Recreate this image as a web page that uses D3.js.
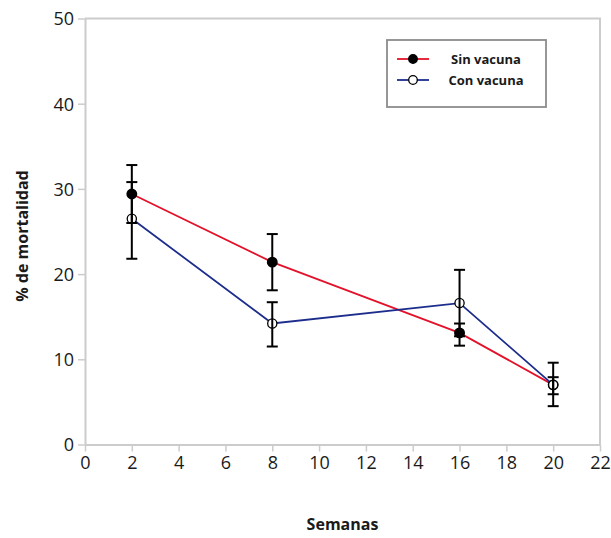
<!DOCTYPE html>
<html>
<head>
<meta charset="utf-8">
<script src="https://cdn.jsdelivr.net/npm/d3@7"></script>
<style>
  body { margin: 0; background: #fff; }
  text { font-family: "Open Sans", "Noto Sans", sans-serif; fill: #1a1a1a; }
</style>
</head>
<body>
<div id="chart-area"></div>
<script>
// data
const weeks = [2, 8, 16, 20]
const seriesNames = ['Sin vacuna', 'Con vacuna']
const sinVacuna = [29.4, 21.4, 13.1, 7.0]
const sinUpper = [32.8, 24.7, 14.2, 7.9]
const sinLower = [26.0, 18.1, 11.6, 5.9]
const conVacuna = [26.5, 14.2, 16.6, 7.0]
const conUpper = [30.8, 16.7, 20.5, 9.6]
const conLower = [21.8, 11.5, 12.7, 4.5]
const xTicks = [0, 2, 4, 6, 8, 10, 12, 14, 16, 18, 20, 22]
const yTicks = [0, 10, 20, 30, 40, 50]

const margin = { left: 85, right: 10, top: 18, bottom: 93 }
const W = 611, H = 538
const width = W - margin.left - margin.right,
  height = H - margin.top - margin.bottom

const svg = d3.select('#chart-area').append('svg')
  .attr('width', W)
  .attr('height', H)

const g = svg.append('g')
  .attr('transform', 'translate(' + margin.left + ',' + margin.top + ')')

const x = d3.scaleLinear().domain([0, 22]).range([0, width - 1])
const y = d3.scaleLinear().domain([0, 50]).range([height - 0.5, 0.5])

// frame top + right
g.append('path')
  .attr('d', 'M0,' + y(50) + 'H' + x(22) + 'V' + y(0))
  .attr('fill', 'none')
  .attr('stroke', '#cccccc')
  .attr('stroke-width', 2)

const xAxis = g.append('g')
  .attr('transform', 'translate(0,' + y(0) + ')')
  .call(d3.axisBottom(x).tickValues(xTicks).tickSize(7).tickSizeOuter(0).tickPadding(5))
const yAxis = g.append('g')
  .call(d3.axisLeft(y).tickValues(yTicks).tickSize(7).tickSizeOuter(0).tickPadding(4))

;[xAxis, yAxis].forEach(ax => {
  ax.select('.domain').attr('stroke', '#cccccc').attr('stroke-width', 2)
  ax.selectAll('.tick line').attr('stroke', '#cccccc').attr('stroke-width', 1.5)
  ax.selectAll('.tick text')
    .attr('fill', '#1a1a1a')
    .style('font-family', '"Open Sans", sans-serif')
    .style('font-size', '18px')
})
yAxis.selectAll('.tick text').attr('dy', '0.35em')

g.append('text')
  .attr('x', x(11))
  .attr('y', 512)
  .attr('text-anchor', 'middle')
  .attr('font-size', '16px')
  .attr('font-weight', 'bold')
  .text('Semanas')

g.append('text')
  .attr('transform', 'rotate(-90)')
  .attr('x', -(236 - margin.top))
  .attr('y', -57)
  .attr('text-anchor', 'middle')
  .attr('font-size', '16px')
  .attr('font-weight', 'bold')
  .text('% de mortalidad')

const series = [
  { name: seriesNames[0], vals: sinVacuna, up: sinUpper, lo: sinLower, color: '#e3122b', filled: true },
  { name: seriesNames[1], vals: conVacuna, up: conUpper, lo: conLower, color: '#1d2d8c', filled: false }
]

const line = d3.line()
  .x((d, i) => x(weeks[i]))
  .y(d => y(d))

series.forEach(s => {
  g.append('path')
    .datum(s.vals)
    .attr('d', line)
    .attr('fill', 'none')
    .attr('stroke', s.color)
    .attr('stroke-width', 1.8)
})

// markers (open ones white-filled, drawn over the filled ones)
series.forEach(s => {
  g.selectAll(null)
    .data(s.vals)
    .enter().append('circle')
    .attr('cx', (d, i) => x(weeks[i]))
    .attr('cy', d => y(d))
    .attr('r', s.filled ? 4.8 : 4.6)
    .attr('fill', s.filled ? '#000' : '#fff')
    .attr('stroke', '#000')
    .attr('stroke-width', 1.3)
})

// error bars on top
series.forEach(s => {
  const eb = g.append('g').attr('stroke', '#000').attr('stroke-width', 2)
  weeks.forEach((w, i) => {
    eb.append('line')
      .attr('x1', x(w)).attr('x2', x(w))
      .attr('y1', y(s.up[i])).attr('y2', y(s.lo[i]))
    ;[s.up[i], s.lo[i]].forEach(v => {
      eb.append('line')
        .attr('x1', x(w) - 5.5).attr('x2', x(w) + 5.5)
        .attr('y1', y(v)).attr('y2', y(v))
    })
  })
})

// legend
const legend = svg.append('g')
  .attr('transform', 'translate(387,40)')
legend.append('rect')
  .attr('width', 159)
  .attr('height', 67)
  .attr('fill', '#fff')
  .attr('stroke', '#8c8c8c')
  .attr('stroke-width', 1.8)

series.forEach((s, i) => {
  const row = legend.append('g')
    .attr('transform', 'translate(0,' + (19 + i * 21) + ')')
  row.append('line')
    .attr('x1', 10).attr('x2', 42)
    .attr('stroke', s.color).attr('stroke-width', 1.8)
  row.append('circle')
    .attr('cx', 26).attr('r', 4.3)
    .attr('fill', s.filled ? '#000' : '#fff')
    .attr('stroke', '#000').attr('stroke-width', 1.3)
  row.append('text')
    .attr('x', 99)
    .attr('y', 4.5)
    .attr('text-anchor', 'middle')
    .attr('font-size', '13px')
    .attr('font-weight', 'bold')
    .text(s.name)
})
</script>
</body>
</html>
